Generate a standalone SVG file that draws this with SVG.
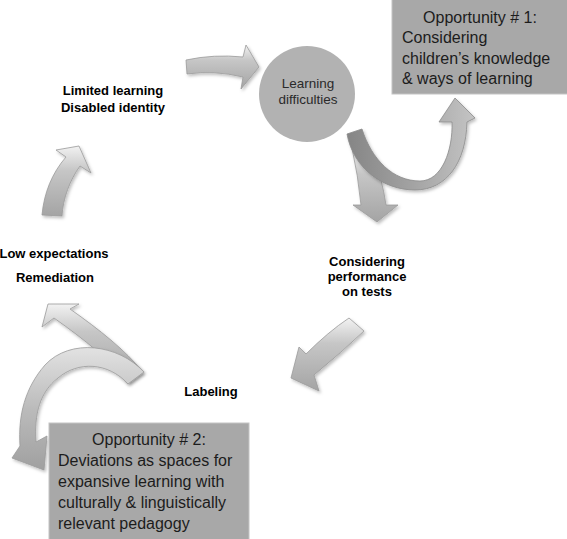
<svg xmlns="http://www.w3.org/2000/svg" width="567" height="539" viewBox="0 0 567 539">
<defs>
<style>
.lbl{font-family:"Liberation Sans",Arial,sans-serif;font-weight:bold;font-size:13px;fill:#000;text-anchor:middle}
.box{fill:#a8a8a8;stroke:#c4c4c4;stroke-width:1}
.bt{font-family:"Liberation Sans",Arial,sans-serif;font-size:16px;fill:#1c1c1c}
.ct{font-family:"Liberation Sans",Arial,sans-serif;font-size:13.5px;fill:#2a2a2a;text-anchor:middle}
.arr{fill:url(#g1);stroke:#9a9a9a;stroke-width:0.8;filter:url(#sh)}
.rib{fill:url(#g2);stroke:#8a8a8a;stroke-width:0.8;filter:url(#sh)}
</style>
<linearGradient id="g1" x1="0" y1="0" x2="0" y2="1">
<stop offset="0" stop-color="#f2f2f2"/>
<stop offset="0.35" stop-color="#c6c6c6"/>
<stop offset="1" stop-color="#a4a4a4"/>
</linearGradient>
<linearGradient id="g2" x1="0" y1="0" x2="1" y2="0">
<stop offset="0" stop-color="#858585"/>
<stop offset="0.5" stop-color="#a2a2a2"/>
<stop offset="1" stop-color="#c4c4c4"/>
</linearGradient>
<linearGradient id="g3" x1="0" y1="0" x2="0" y2="1">
<stop offset="0" stop-color="#e2e2e2"/>
<stop offset="0.5" stop-color="#bbbbbb"/>
<stop offset="1" stop-color="#a0a0a0"/>
</linearGradient>
<filter id="sh" x="-20%" y="-20%" width="140%" height="140%">
<feDropShadow dx="1.5" dy="2" stdDeviation="1.5" flood-color="#000" flood-opacity="0.25"/>
</filter>
</defs>

<g id="connectors">
<path class="arr" d="M186,60 Q214,54 243,57 L246,45 L259,67 L241,89 L243,77 Q214,70 187,74 Z"/>
<path class="arr" d="M352,148 Q358,175 361,205 L353,205 L377,222 L398,205 L386,205 Q382,178 374,160 Z"/>
<path class="rib" d="M347,134 C353,168 383,190 415,190 C447,190 466,162 467,122 L475,118 L455,98 L439,122 L452,122 C453,150 442,181 420,181 C393,181 372,160 362,129 Z"/>
<path class="arr" d="M349,318 L364,331 Q342,352 314,375 L319,391 L291,378 L299,347 L306,354 Q328,332 349,318 Z"/>
<path class="arr" d="M143,372 C125,350 100,330 70,309 L79,304 L48,304 L42,327 L54,318 C85,340 110,360 128,383 Z"/>
<path class="arr" style="fill:url(#g3)" d="M144,372 C118,344 70,338 45,365 C25,388 18,415 20,446 L12,458 L44,470 L47,436 L36,442 C34,414 40,392 58,378 C78,361 108,362 128,384 Z"/>
<path class="arr" d="M42,215 C44,193 52,173 66,157 L56,150 L79,146 L91,173 L80,166 C70,180 63,198 62,216 Z"/>
</g>

<g id="node-learning-difficulties">
<circle cx="307" cy="94" r="48" fill="#b2b2b2"/>
<text class="ct" x="308" y="88">Learning</text>
<text class="ct" x="308" y="104">difficulties</text>
</g>

<g id="node-opportunity1">
<rect class="box" x="392" y="-1" width="176" height="95"/>
<text class="bt" x="480" y="23" text-anchor="middle">Opportunity # 1:</text>
<text class="bt" x="402" y="43">Considering</text>
<text class="bt" x="402" y="64">children’s knowledge</text>
<text class="bt" x="402" y="84">&amp; ways of learning</text>
</g>

<g id="node-considering">
<text class="lbl" x="367" y="266">Considering</text>
<text class="lbl" x="367" y="281">performance</text>
<text class="lbl" x="367" y="296">on tests</text>
</g>

<g id="node-labeling">
<text class="lbl" x="211" y="396">Labeling</text>
</g>

<g id="node-opportunity2">
<rect class="box" x="49" y="423" width="200" height="120"/>
<text class="bt" x="149" y="445" text-anchor="middle">Opportunity # 2:</text>
<text class="bt" x="58" y="466">Deviations as spaces for</text>
<text class="bt" x="58" y="487">expansive learning with</text>
<text class="bt" x="58" y="508">culturally &amp; linguistically</text>
<text class="bt" x="58" y="529">relevant pedagogy</text>
</g>

<g id="node-low-expectations">
<text class="lbl" x="54" y="258">Low expectations</text>
<text class="lbl" x="55" y="282">Remediation</text>
</g>

<g id="node-limited-learning">
<text class="lbl" x="113" y="95">Limited learning</text>
<text class="lbl" x="113" y="112">Disabled identity</text>
</g>
</svg>
